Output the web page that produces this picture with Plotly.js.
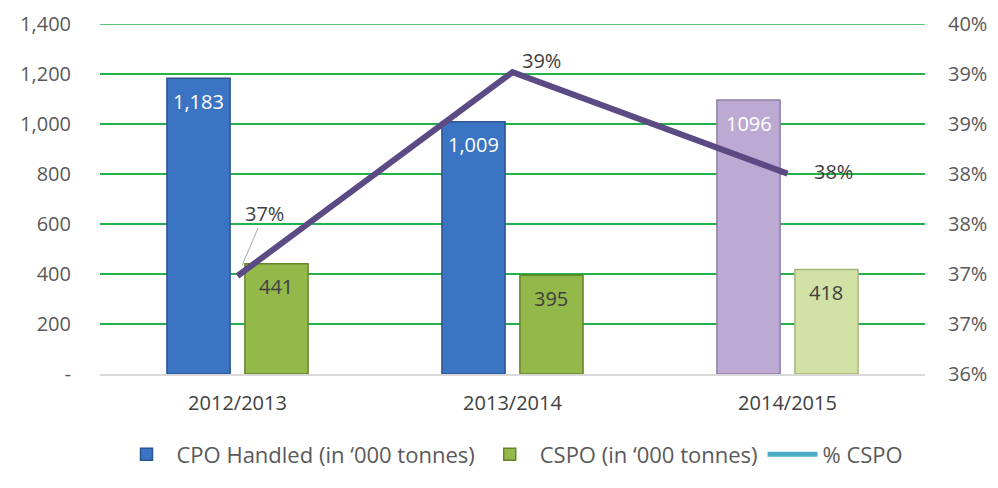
<!DOCTYPE html>
<html>
<head>
<meta charset="utf-8">
<script src="https://cdn.plot.ly/plotly-3.0.1.min.js"></script>
<style>html,body{margin:0;padding:0;background:#fff;}#chart{width:998px;height:488px;}</style>
</head>
<body>
<div id="chart"></div>
<script>
// ---- data ----
const categories = ["2012/2013", "2013/2014", "2014/2015"];
const cpoHandled = [1183, 1009, 1096];
const cpoLabels = ["1,183", "1,009", "1096"];
const cspo = [441, 395, 418];
const cspoLabels = ["441", "395", "418"];
const pctCspo = [0.3712, 0.3945, 0.3829];
const pctLabels = ["37%", "39%", "38%"];
const leftTickVals = [0, 200, 400, 600, 800, 1000, 1200, 1400];
const leftTickText = ["-", "200", "400", "600", "800", "1,000", "1,200", "1,400"];
const rightTickVals = [0.36, 0.365714, 0.371429, 0.377143, 0.382857, 0.388571, 0.394286, 0.40];
const rightTickText = ["36%", "37%", "37%", "38%", "38%", "39%", "39%", "40%"];

// ---- styles ----
const cpoColors = ["#3b74c2", "#3b74c2", "#bdaad3"];
const cpoLine = ["#2a5590", "#2a5590", "#8e7ea6"];
const cspoColors = ["#93b94a", "#93b94a", "#d2e2a6"];
const cspoLine = ["#66842c", "#66842c", "#a3b57a"];
const pctOffsets = [[27, -63, true], [29, -12, false], [46, -2, false]];
const FONT = "Open Sans, Noto Sans, sans-serif";
const GRID = "#22b24c";

const traces = [
  {
    type: "bar", name: "CPO Handled (in \u2018000 tonnes)", x: categories, y: cpoHandled,
    marker: {color: cpoColors, line: {color: cpoLine, width: 1.5}},
    hoverinfo: "skip"
  },
  {
    type: "bar", name: "CSPO (in \u2018000 tonnes)", x: categories, y: cspo,
    marker: {color: cspoColors, line: {color: cspoLine, width: 1.5}},
    hoverinfo: "skip"
  },
  {
    type: "scatter", mode: "lines", name: "% CSPO", x: categories, y: pctCspo, yaxis: "y2",
    line: {color: "#5b4a84", width: 6}, showlegend: false, hoverinfo: "skip"
  },
  {
    type: "scatter", mode: "lines", name: "% CSPO", x: [categories[0]], y: [null], yaxis: "y2",
    line: {color: "#4bacc6", width: 5}, showlegend: true, hoverinfo: "skip"
  }
];

const annotations = [];
categories.forEach((c, i) => {
  annotations.push({x: c, y: cpoHandled[i], xref: "x", yref: "y", text: cpoLabels[i],
    showarrow: false, xshift: -39, yshift: -23, yanchor: "middle",
    font: {family: FONT, size: 20, color: "#ffffff"}});
  annotations.push({x: c, y: cspo[i], xref: "x", yref: "y", text: cspoLabels[i],
    showarrow: false, xshift: 38, yshift: -23, yanchor: "middle",
    font: {family: FONT, size: 20, color: "#404040"}});
  const o = pctOffsets[i];
  if (o[2]) {
    annotations.push({x: c, y: pctCspo[i], xref: "x", yref: "y2", text: pctLabels[i],
      showarrow: true, ax: o[0], ay: o[1], arrowhead: 0, arrowwidth: 1, arrowcolor: "#a6a6a6",
      standoff: 12, font: {family: FONT, size: 20, color: "#404040"}});
  } else {
    annotations.push({x: c, y: pctCspo[i], xref: "x", yref: "y2", text: pctLabels[i],
      showarrow: false, xshift: o[0], yshift: -o[1],
      font: {family: FONT, size: 20, color: "#404040"}});
  }
});

// top gridline at the last tick (Plotly skips gridlines at the range edge)
const topTick = leftTickVals[leftTickVals.length - 1];
const shapes = [{type: "line", xref: "paper", x0: 0, x1: 1, yref: "y", y0: topTick, y1: topTick,
  line: {color: GRID, width: 1.3}, layer: "below"}];

const layout = {
  width: 998, height: 488,
  margin: {l: 100, r: 73, t: 24, b: 114},
  paper_bgcolor: "#ffffff", plot_bgcolor: "#ffffff",
  barmode: "group", bargap: 0.433, bargroupgap: 0.19,
  showlegend: true,
  legend: {orientation: "h", x: 0.5, xanchor: "center", y: -0.23, yanchor: "middle",
    font: {family: FONT, size: 22, color: "#595959"}, itemwidth: 50},
  xaxis: {type: "category", showline: true, linecolor: "#d9d9d9", linewidth: 2,
    showgrid: false, ticks: "", tickfont: {family: FONT, size: 20, color: "#404040"},
    ticklabelstandoff: 10},
  yaxis: {range: [0, 1400], tickvals: leftTickVals, ticktext: leftTickText,
    showgrid: true, gridcolor: GRID, gridwidth: 1.3, zeroline: false,
    tickfont: {family: FONT, size: 20, color: "#595959"}, ticklabelstandoff: 28, fixedrange: true},
  yaxis2: {overlaying: "y", side: "right", range: [0.36, 0.40], tickvals: rightTickVals,
    ticktext: rightTickText, showgrid: false, zeroline: false,
    tickfont: {family: FONT, size: 20, color: "#595959"}, ticklabelstandoff: 22},
  annotations: annotations,
  shapes: shapes
};

Plotly.newPlot("chart", traces, layout, {displayModeBar: false, staticPlot: true});
</script>
</body>
</html>
